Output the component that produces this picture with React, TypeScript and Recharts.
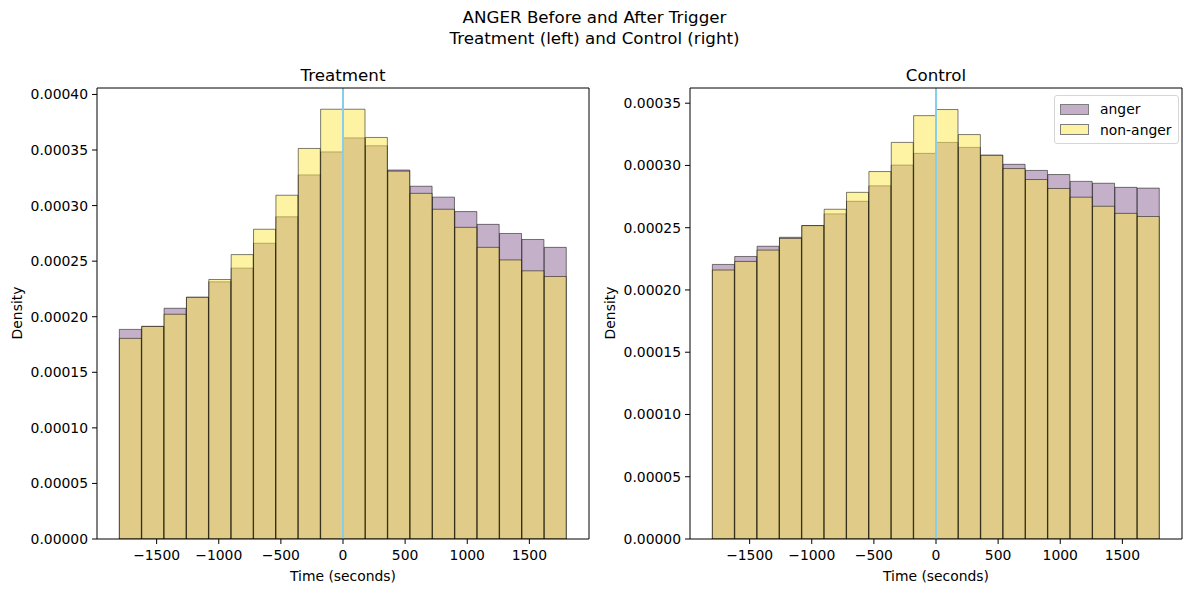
import React from "react";
import { ComposedChart, Bar, XAxis, YAxis, ReferenceLine } from "recharts";

// bin centres of the 20 histogram bins (width 180 s, -1800..1800)
const binCenters = [
  -1710, -1530, -1350, -1170, -990, -810, -630, -450, -270, -90, 90, 270, 450,
  630, 810, 990, 1170, 1350, 1530, 1710,
];

const treatmentAnger = [
  0.0001886, 0.0001913, 0.0002076, 0.0002175, 0.0002314, 0.0002437, 0.0002661,
  0.0002899, 0.0003276, 0.0003483, 0.0003609, 0.0003538, 0.000332, 0.0003174,
  0.0003076, 0.0002946, 0.0002831, 0.0002749, 0.0002695, 0.0002624,
];
const treatmentNonAnger = [
  0.0001805, 0.0001913, 0.0002022, 0.0002175, 0.0002335, 0.0002559, 0.0002787,
  0.0003093, 0.0003514, 0.0003867, 0.0003867, 0.0003613, 0.000331, 0.000311,
  0.0002967, 0.0002804, 0.0002624, 0.0002511, 0.0002413, 0.0002362,
];
const controlAnger = [
  0.0002205, 0.0002269, 0.0002351, 0.0002423, 0.0002517, 0.0002611, 0.0002712,
  0.0002836, 0.0003003, 0.0003097, 0.0003185, 0.0003145, 0.0003082, 0.0003009,
  0.000296, 0.0002927, 0.0002872, 0.0002857, 0.0002824, 0.0002818,
];
const controlNonAnger = [
  0.000216, 0.0002229, 0.000232, 0.0002414, 0.0002517, 0.0002648, 0.0002784,
  0.0002951, 0.0003185, 0.00034, 0.0003449, 0.0003248, 0.0003082, 0.0002975,
  0.0002887, 0.0002815, 0.0002745, 0.0002672, 0.0002615, 0.000259,
];

const xTicks = [-1500, -1000, -500, 0, 500, 1000, 1500];
const treatmentYTicks = [
  0, 0.00005, 0.0001, 0.00015, 0.0002, 0.00025, 0.0003, 0.00035, 0.0004,
];
const controlYTicks = [
  0, 0.00005, 0.0001, 0.00015, 0.0002, 0.00025, 0.0003, 0.00035,
];

const ANGER = "#8a6194";
const NON_ANGER = "#fbe748";
const FONT = "'DejaVu Sans', sans-serif";
const X_MIN = -1980;
const X_MAX = 1980;

const fmtX = (v: number) => (v < 0 ? `\u2212${Math.abs(v)}` : `${v}`);
const fmtY = (v: number) => v.toFixed(5);

function LegendBox() {
  const items = [
    { name: "anger", color: ANGER },
    { name: "non-anger", color: NON_ANGER },
  ];
  return (
    <div
      style={{
        position: "absolute",
        left: 1054,
        top: 95,
        border: "1px solid #d6d6d6",
        borderRadius: 3,
        background: "rgba(255,255,255,0.8)",
        padding: "3px 6px 3px 5px",
        fontSize: 13.9,
        color: "#000",
        zIndex: 3,
      }}
    >
      {items.map((it) => (
        <div
          key={it.name}
          style={{ display: "flex", alignItems: "center", height: 20.5 }}
        >
          <span
            style={{
              display: "inline-block",
              width: 27,
              height: 9,
              background: it.color,
              opacity: 0.5,
              border: "1px solid #000",
              marginRight: 11,
            }}
          />
          <span>{it.name}</span>
        </div>
      ))}
    </div>
  );
}

interface PanelProps {
  title: string;
  anger: number[];
  nonAnger: number[];
  yTicks: number[];
  yMax: number;
  width: number;
  yAxisWidth: number;
  rightMargin: number;
}

function Panel({
  title,
  anger,
  nonAnger,
  yTicks,
  yMax,
  width,
  yAxisWidth,
  rightMargin,
}: PanelProps) {
  const data = binCenters.map((x, i) => ({
    x,
    anger: anger[i],
    nonAnger: nonAnger[i],
  }));
  const tickStyle = { fill: "#000", fontSize: 13.9, fontFamily: FONT };

  return (
    <ComposedChart
      width={width}
      height={592}
      data={data}
      margin={{ top: 88, right: rightMargin, bottom: 0, left: 0 }}
      barCategoryGap={0}
      barGap={0}
    >
      <XAxis
        xAxisId="bottom"
        dataKey="x"
        type="number"
        domain={[X_MIN, X_MAX]}
        ticks={xTicks}
        tickFormatter={fmtX}
        tick={tickStyle}
        tickSize={5}
        tickMargin={6}
        stroke="#000"
        height={53}
        allowDataOverflow
        label={{
          value: "Time (seconds)",
          position: "insideBottom",
          offset: 11,
          style: { fill: "#000", fontSize: 13.9, fontFamily: FONT },
        }}
      />
      <XAxis
        xAxisId="top"
        orientation="top"
        dataKey="x"
        type="number"
        domain={[X_MIN, X_MAX]}
        hide
        height={0}
        allowDataOverflow
      />
      <YAxis
        type="number"
        domain={[0, yMax]}
        ticks={yTicks}
        tickFormatter={fmtY}
        tick={tickStyle}
        tickSize={5}
        tickMargin={4}
        stroke="#000"
        width={yAxisWidth}
        allowDataOverflow
      />
      <Bar
        xAxisId="bottom"
        dataKey="anger"
        name="anger"
        fill={ANGER}
        fillOpacity={0.5}
        stroke="#000"
        strokeOpacity={0.5}
        strokeWidth={1}
        isAnimationActive={false}
      />
      <Bar
        xAxisId="top"
        dataKey="nonAnger"
        name="non-anger"
        fill={NON_ANGER}
        fillOpacity={0.5}
        stroke="#000"
        strokeOpacity={0.5}
        strokeWidth={1}
        isAnimationActive={false}
      />
      <ReferenceLine
        xAxisId="bottom"
        x={0}
        stroke="#87ceeb"
        strokeWidth={2}
      />
      {/* top and right spines */}
      <ReferenceLine xAxisId="bottom" y={yMax} stroke="#000" strokeWidth={1} />
      <ReferenceLine xAxisId="bottom" x={X_MAX} stroke="#000" strokeWidth={1} />
      <text
        x={yAxisWidth + (width - yAxisWidth - rightMargin) / 2}
        y={81}
        textAnchor="middle"
        style={{ fontSize: 16.7, fontFamily: FONT, fill: "#000" }}
      >
        {title}
      </text>
    </ComposedChart>
  );
}

export default function App() {
  return (
    <div
      style={{
        position: "absolute",
        left: 0,
        top: 0,
        width: 1189,
        height: 592,
        background: "#fff",
        fontFamily: FONT,
      }}
    >
      <div
        style={{
          position: "absolute",
          top: 7,
          left: 0,
          width: 1189,
          textAlign: "center",
          fontSize: 16.7,
          lineHeight: "21px",
          color: "#000",
          zIndex: 2,
        }}
      >
        ANGER Before and After Trigger
        <br />
        Treatment (left) and Control (right)
      </div>
      <div
        style={{
          position: "absolute",
          left: 17,
          top: 313,
          transform: "translate(-50%, -50%) rotate(-90deg)",
          fontSize: 13.9,
          whiteSpace: "nowrap",
          color: "#000",
          zIndex: 2,
        }}
      >
        Density
      </div>
      <div
        style={{
          position: "absolute",
          left: 610,
          top: 313,
          transform: "translate(-50%, -50%) rotate(-90deg)",
          fontSize: 13.9,
          whiteSpace: "nowrap",
          color: "#000",
          zIndex: 2,
        }}
      >
        Density
      </div>
      <div style={{ position: "absolute", left: 0, top: 0 }}>
        <Panel
          title="Treatment"
          anger={treatmentAnger}
          nonAnger={treatmentNonAnger}
          yTicks={treatmentYTicks}
          yMax={0.0004058}
          width={600}
          yAxisWidth={97}
          rightMargin={11}
        />
      </div>
      <div style={{ position: "absolute", left: 600, top: 0 }}>
        <Panel
          title="Control"
          anger={controlAnger}
          nonAnger={controlNonAnger}
          yTicks={controlYTicks}
          yMax={0.0003622}
          width={589}
          yAxisWidth={90}
          rightMargin={7}
        />
      </div>
      <LegendBox />
    </div>
  );
}
